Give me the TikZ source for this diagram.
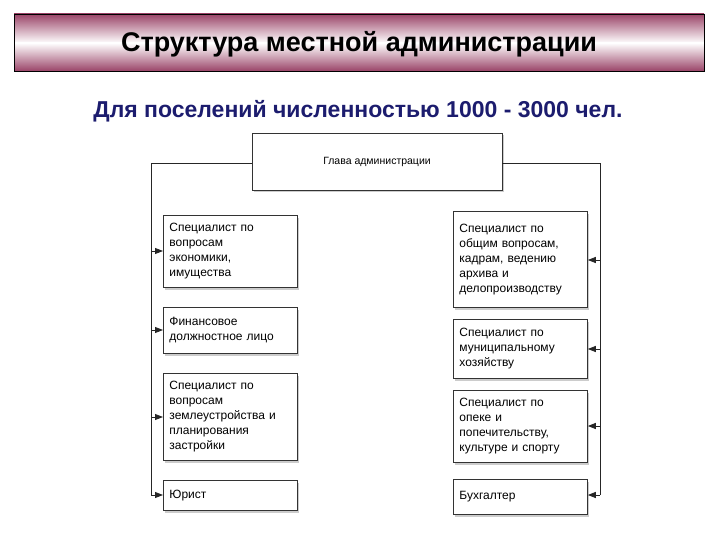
\documentclass[tikz,border=0pt]{standalone}
\usepackage{fontspec}
\setmainfont{Liberation Sans}
\usetikzlibrary{shadows,arrows.meta}
\definecolor{maroon}{HTML}{9A4468}
\definecolor{subblue}{HTML}{1C1C6E}
\tikzset{
  box/.style={draw=black!80,fill=white,line width=0.8pt,drop shadow={shadow xshift=1.5pt,shadow yshift=-2.5pt,opacity=0.4,fill=black!50},
    align=left,anchor=north west,inner xsep=6pt,inner ysep=4pt,text width=122pt,font=\fontsize{12}{15}\selectfont},
  conn/.style={line width=0.9pt,black!85},
  arr/.style={conn,-{Triangle[length=8pt,width=6pt]}}
}
\begin{document}
\begin{tikzpicture}[x=1pt,y=-1pt]
\useasboundingbox (0,0) rectangle (720,540);
\shade[top color=maroon,bottom color=white] (14,14) rectangle (704,43);
\shade[top color=white,bottom color=maroon] (14,43) rectangle (704,71);
\draw[line width=0.8pt] (14,14) rectangle (704,71);
\node[font=\fontsize{27}{30}\selectfont\bfseries] (title) at (359,44) {Структура местной администрации};
\node[font=\fontsize{23}{26}\selectfont\bfseries,text=subblue] (sub) at (358,111) {Для поселений численностью 1000 - 3000 чел.};

\node[box,text width=,minimum width=250,minimum height=57,anchor=center,align=center,font=\fontsize{10.5}{12}\selectfont] (head) at (377,161.5) {Глава администрации};

\coordinate (lt) at (151,163);
\coordinate (rt) at (600,163);
\coordinate (lb) at (151,495);
\coordinate (rb) at (600,495);
\draw[conn] (head.west |- lt) -- (lt) -- (lb);
\draw[conn] (head.east |- rt) -- (rt) -- (rb);

\node[box,minimum height=72] (l1) at (163,215) {Специалист по\\вопросам\\экономики,\\имущества};
\node[box,minimum height=46] (l2) at (163,307) {Финансовое\\должностное лицо};
\node[box,minimum height=87] (l3) at (163,373) {Специалист по\\вопросам\\землеустройства и\\планирования\\застройки};
\node[box,minimum height=30] (l4) at (163,480) {Юрист};

\node[box,minimum height=96] (r1) at (453,211) {Специалист по\\общим вопросам,\\кадрам, ведению\\архива и\\делопроизводству};
\node[box,minimum height=59] (r2) at (453,319) {Специалист по\\муниципальному\\хозяйству};
\node[box,minimum height=72] (r3) at (453,390) {Специалист по\\опеке и\\попечительству,\\культуре и спорту};
\node[box,minimum height=35] (r4) at (453,479) {Бухгалтер};

\foreach \n/\y in {l1/251,l2/330,l3/417,l4/495} {
  \coordinate (a\n) at (151,\y);
  \draw[arr] (a\n) -- (\n.west |- a\n);
}
\foreach \n/\y in {r1/260,r2/349,r3/426,r4/495} {
  \coordinate (a\n) at (600,\y);
  \draw[arr] (a\n) -- (\n.east |- a\n);
}
\end{tikzpicture}
\end{document}
